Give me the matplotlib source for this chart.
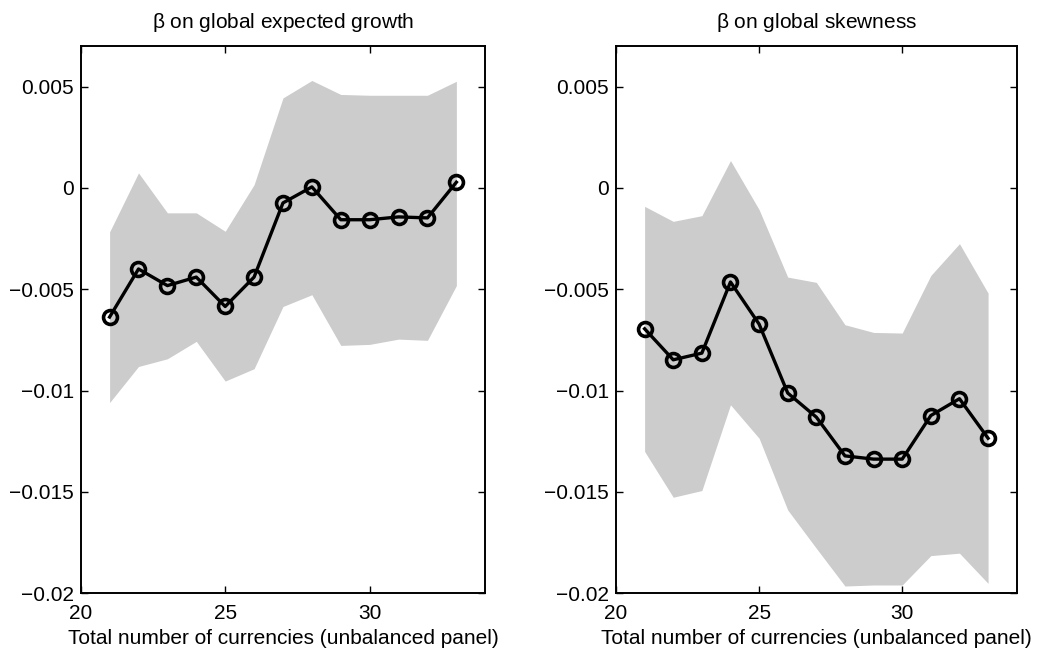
import matplotlib
matplotlib.use("Agg")
import matplotlib.pyplot as plt

plt.rcParams['font.family'] = ['Liberation Sans', 'DejaVu Sans']

# number of currencies in the panel
n_curr = [21, 22, 23, 24, 25, 26, 27, 28, 29, 30, 31, 32, 33]

# beta on global expected growth (point estimate and band)
beta_growth = [-0.00637, -0.00400, -0.00482, -0.00440, -0.00585, -0.00440, -0.00074,
               0.00005, -0.00157, -0.00157, -0.00143, -0.00148, 0.00028]
growth_hi = [-0.00217, 0.00074, -0.00123, -0.00123, -0.00214, 0.00016, 0.00444,
             0.00530, 0.00461, 0.00457, 0.00457, 0.00457, 0.00526]
growth_lo = [-0.01059, -0.00881, -0.00843, -0.00757, -0.00953, -0.00892, -0.00585,
             -0.00527, -0.00777, -0.00772, -0.00746, -0.00752, -0.00482]

# beta on global skewness
beta_skew = [-0.00695, -0.00848, -0.00815, -0.00464, -0.00672, -0.01012, -0.01131,
             -0.01322, -0.01338, -0.01338, -0.01123, -0.01040, -0.01235]
skew_hi = [-0.00091, -0.00165, -0.00137, 0.00135, -0.00107, -0.00440, -0.00466,
           -0.00675, -0.00713, -0.00716, -0.00432, -0.00275, -0.00519]
skew_lo = [-0.01300, -0.01526, -0.01493, -0.01070, -0.01235, -0.01589, -0.01778,
           -0.01964, -0.01959, -0.01959, -0.01814, -0.01802, -0.01951]

titles = [r'$\mathregular{\beta}$ on global expected growth', r'$\mathregular{\beta}$ on global skewness']
xlabel = 'Total number of currencies (unbalanced panel)'
yticks = [-0.02, -0.015, -0.01, -0.005, 0, 0.005]
ytick_labels = ['\u22120.02', '\u22120.015', '\u22120.01', '\u22120.005', '0', '0.005']

fig = plt.figure(figsize=(10.4, 6.49), dpi=100)
ax1 = fig.add_axes([0.0776, 0.0858, 0.389, 0.8433])
ax2 = fig.add_axes([0.5923, 0.0858, 0.3853, 0.8433])

panels = [(ax1, beta_growth, growth_lo, growth_hi),
          (ax2, beta_skew, skew_lo, skew_hi)]

for i, (ax, beta, lo, hi) in enumerate(panels):
    # shaded band first, then the estimates on top
    ax.fill_between(n_curr, lo, hi, color='#cccccc', linewidth=0)
    ax.plot(n_curr, beta, color='black', linewidth=2.4, marker='o',
            markersize=10, markerfacecolor='none', markeredgewidth=2.6)
    ax.set_xlim(20, 34)
    ax.set_ylim(-0.02, 0.007)
    ax.set_xticks([20, 25, 30])
    ax.set_yticks(yticks)
    ax.set_yticklabels(ytick_labels)
    ax.tick_params(direction='in', top=True, right=True, length=5, width=1,
                   labelsize=15)
    ax.tick_params(axis='x', pad=8)
    ax.tick_params(axis='y', pad=5)
    for s in ax.spines.values():
        s.set_linewidth(1.4)
    ax.set_title(titles[i], fontsize=15, pad=13)
    ax.set_xlabel(xlabel, fontsize=15, labelpad=4)

fig.savefig('out.png', dpi=100)
